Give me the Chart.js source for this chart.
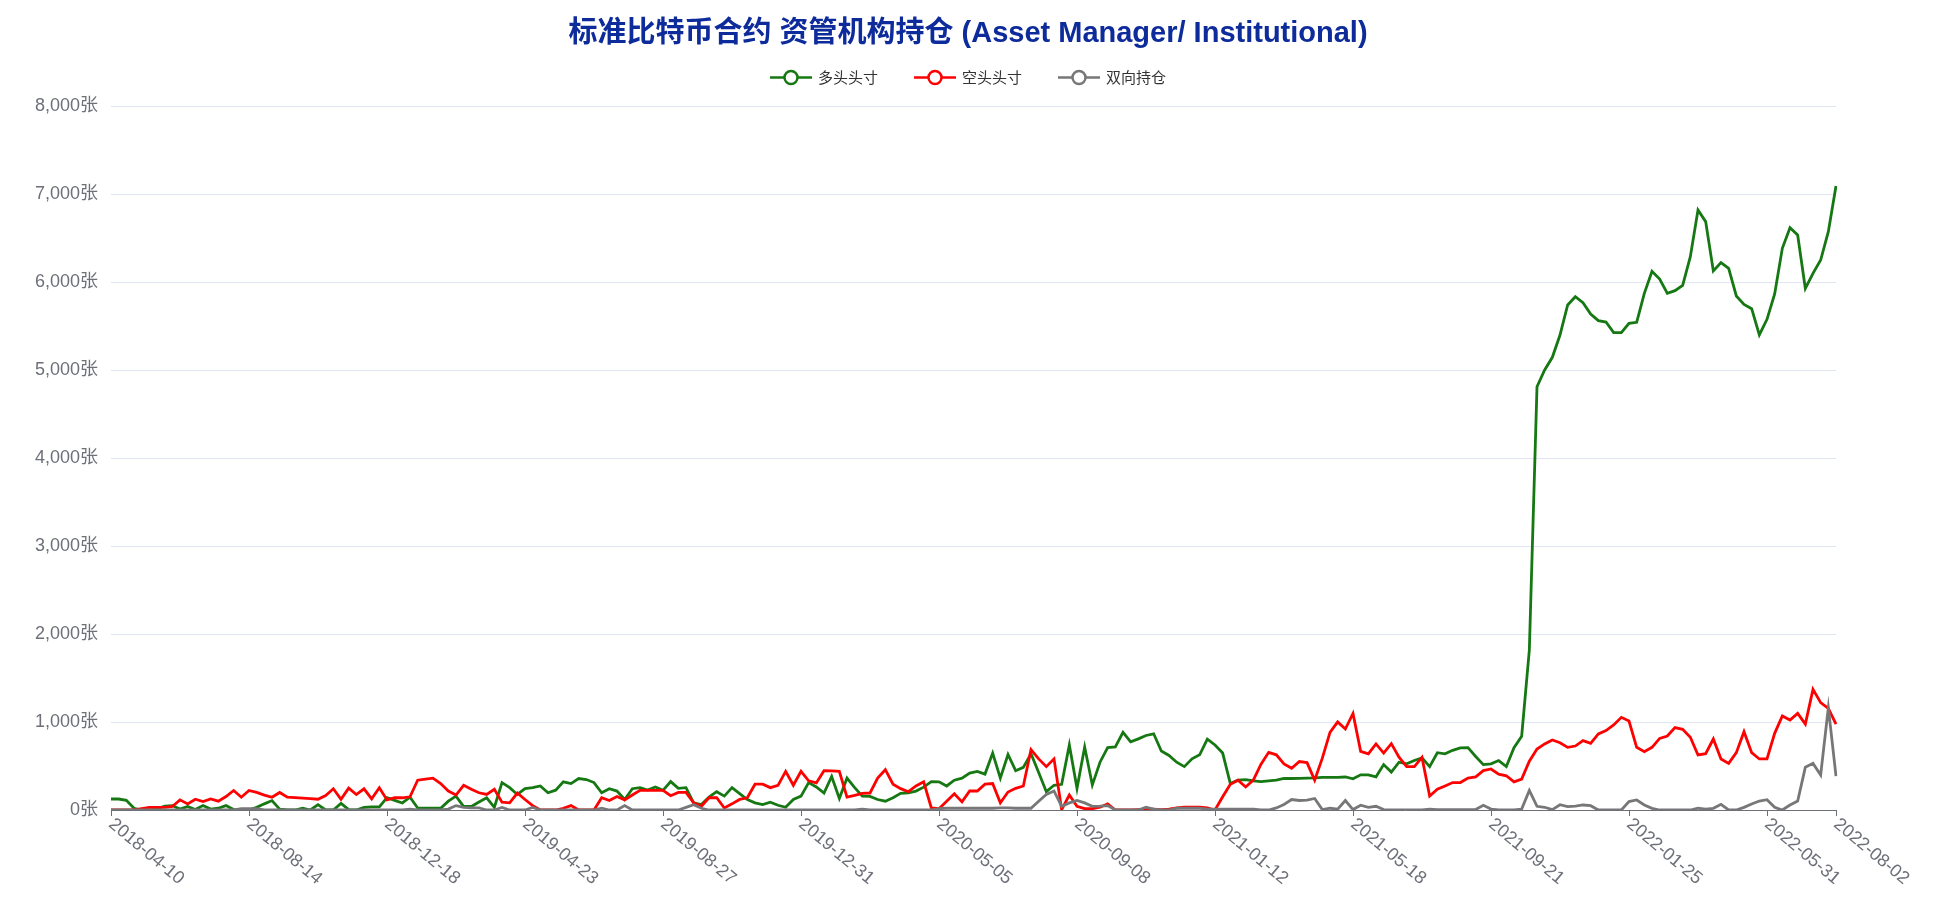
<!DOCTYPE html>
<html>
<head>
<meta charset="utf-8">
<script src="https://cdn.jsdelivr.net/npm/chart.js@4.4.1/dist/chart.umd.min.js"></script>
<style>
  html, body { margin: 0; padding: 0; background: #fff; }
  #wrap { width: 1936px; height: 912px; }
</style>
</head>
<body>
<div id="wrap"><canvas id="chart" width="1936" height="912"></canvas></div>
<script>
// ── Data ──────────────────────────────────────────────────────────
const chartTitle = "标准比特币合约 资管机构持仓 (Asset Manager/ Institutional)";
const startDate  = "2018-04-10";   // weekly report, every Tuesday
const weekCount  = 226;
const tickLabels = ["2018-04-10", "2018-08-14", "2018-12-18", "2019-04-23", "2019-08-27",
  "2019-12-31", "2020-05-05", "2020-09-08", "2021-01-12", "2021-05-18", "2021-09-21",
  "2022-01-25", "2022-05-31", "2022-08-02"];
const yTicks = [0, 1000, 2000, 3000, 4000, 5000, 6000, 7000, 8000];

const longs = [
  125, 125, 110, 20, 0, 0, 10, 45, 50, 10,
  40, 5, 50, 10, 20, 50, 5, 0, 0, 30,
  70, 107, 10, 0, 0, 20, 0, 60, 0, 0,
  75, 5, 0, 30, 35, 35, 140, 110, 80, 145,
  23, 20, 20, 20, 100, 158, 40, 40, 90, 138,
  30, 311, 254, 177, 242, 254, 273, 196, 225, 320,
  300, 358, 346, 312, 196, 242, 215, 119, 242, 254,
  227, 262, 223, 323, 246, 254, 81, 62, 146, 208,
  158, 254, 185, 119, 81, 62, 89, 54, 31, 119,
  158, 312, 262, 193, 381, 131, 362, 254, 158, 155,
  119, 100, 139, 189, 196, 215, 260, 323, 320, 273,
  339, 362, 420, 439, 408, 647, 362, 631, 447, 485,
  639, 427, 208, 281, 292, 739, 246, 716, 285, 543,
  708, 716, 882, 775, 808, 847, 866, 670, 620, 543,
  493, 581, 627, 805, 739, 647, 300, 339, 346, 331,
  323, 331, 339, 358, 358, 360, 362, 365, 370, 370,
  370, 375, 355, 400, 400, 377, 516, 431, 543, 524,
  562, 593, 493, 651, 639, 678, 705, 708, 608, 516,
  524, 562, 493, 708, 839, 1818, 4810, 5000, 5144, 5398,
  5739, 5833, 5765, 5636, 5561, 5545, 5424, 5424, 5530, 5542,
  5871, 6121, 6034, 5871, 5902, 5962, 6288, 6818, 6686, 6125,
  6220, 6155, 5841, 5746, 5697, 5398, 5576, 5864, 6383, 6617,
  6534, 5928, 6098, 6250, 6572, 7091
];

const shorts = [
  0, 0, 0, 0, 15, 30, 30, 30, 40, 115,
  69, 122, 96, 126, 100, 153, 222, 145, 222, 200,
  170, 145, 199, 145, 140, 135, 130, 122, 165, 241,
  122, 249, 176, 241, 126, 253, 115, 139, 139, 150,
  339, 350, 362, 300, 216, 170, 281, 235, 196, 177,
  235, 89, 81, 193, 119, 50, 0, 0, 0, 20,
  50, 0, 0, 0, 139, 108, 154, 115, 170, 223,
  223, 223, 223, 162, 200, 200, 81, 42, 139, 139,
  23, 70, 120, 139, 293, 293, 254, 280, 439, 281,
  439, 331, 308, 447, 445, 439, 146, 166, 189, 193,
  362, 458, 293, 243, 208, 273, 320, 23, 15, 100,
  185, 92, 216, 216, 293, 300, 81, 204, 246, 273,
  685, 581, 493, 581, 4, 170, 42, 15, 15, 31,
  69, 0, 0, 0, 5, 10, 10, 5, 10, 25,
  31, 31, 31, 25, 0, 150, 293, 339, 262, 339,
  520, 655, 627, 524, 474, 551, 539, 339, 589, 882,
  1001, 920, 1097, 666, 639, 751, 647, 754, 601, 493,
  493, 597, 158, 235, 273, 312, 312, 362, 377, 447,
  466, 408, 389, 320, 351, 554, 693, 751, 795, 765,
  712, 727, 788, 758, 864, 902, 966, 1053, 1011, 712,
  663, 712, 814, 841, 936, 917, 826, 625, 640, 807,
  580, 530, 652, 890, 652, 580, 580, 871, 1068, 1023,
  1098, 977, 1371, 1220, 1155, 977
];

const spreads = [
  0, 0, 0, 0, 0, 0, 0, 0, 0, 0,
  0, 0, 0, 0, 0, 0, 0, 15, 15, 15,
  0, 0, 0, 0, 0, 0, 0, 0, 0, 0,
  0, 0, 0, 0, 0, 0, 0, 0, 0, 10,
  0, 0, 0, 0, 10, 50, 30, 25, 25, 0,
  0, 30, 0, 0, 0, 30, 0, 0, 0, 0,
  0, 0, 0, 0, 20, 0, 0, 50, 0, 0,
  0, 0, 0, 0, 0, 30, 60, 20, 0, 0,
  0, 0, 0, 0, 0, 0, 0, 0, 0, 0,
  0, 0, 0, 0, 0, 0, 0, 0, 10, 0,
  0, 0, 0, 0, 0, 0, 0, 0, 15, 20,
  20, 20, 20, 20, 20, 20, 25, 25, 20, 20,
  20, 100, 177, 216, 42, 81, 108, 81, 42, 45,
  50, 0, 0, 0, 0, 31, 10, 0, 0, 20,
  20, 20, 20, 10, 10, 10, 10, 10, 10, 10,
  0, 0, 23, 62, 119, 108, 112, 131, 4, 20,
  10, 108, 5, 54, 31, 42, 5, 0, 0, 0,
  0, 0, 10, 5, 5, 5, 5, 5, 5, 54,
  10, 0, 0, 0, 10, 223, 42, 31, 5, 60,
  38, 45, 57, 49, 0, 0, 0, 0, 95, 114,
  57, 19, 0, 0, 0, 0, 0, 20, 10, 19,
  64, 0, 0, 30, 68, 102, 117, 30, 0, 57,
  102, 485, 530, 398, 1163, 386
];

// ── Weekly category labels ────────────────────────────────────────
function weeklyDates(start, n) {
  const out = [];
  const t0 = Date.parse(start + "T00:00:00Z");
  for (let i = 0; i < n; i++) {
    out.push(new Date(t0 + i * 7 * 86400000).toISOString().slice(0, 10));
  }
  return out;
}
const dates = weeklyDates(startDate, weekCount);

const AXIS_GREY = "#6E7079";
const FONT = "'Liberation Sans', 'Noto Sans CJK SC', sans-serif";

// ── Title, legend and slanted date labels (ECharts look) ──────────
const decor = {
  id: "decor",
  afterDraw(chart) {
    const ctx = chart.ctx;
    ctx.save();

    // title
    ctx.fillStyle = "#0d2b9b";
    ctx.font = "bold 29px " + FONT;
    ctx.textAlign = "center";
    ctx.textBaseline = "middle";
    ctx.fillText(chartTitle, 968, 34);

    // legend: line + hollow circle, then text
    ctx.font = "15px " + FONT;
    const iconW = 42, gap = 6, itemGap = 36;
    const items = chart.data.datasets.map(ds => ({
      text: ds.label, color: ds.borderColor, w: iconW + gap + ctx.measureText(ds.label).width
    }));
    const total = items.reduce((s, it) => s + it.w, 0) + itemGap * (items.length - 1);
    let x = 968 - total / 2;
    const ly = 77.5;
    items.forEach(it => {
      ctx.strokeStyle = it.color;
      ctx.lineWidth = 2.5;
      ctx.beginPath();
      ctx.moveTo(x, ly); ctx.lineTo(x + iconW, ly);
      ctx.stroke();
      ctx.beginPath();
      ctx.arc(x + iconW / 2, ly, 6.5, 0, Math.PI * 2);
      ctx.fillStyle = "#fff";
      ctx.fill();
      ctx.stroke();
      ctx.fillStyle = "#333";
      ctx.textAlign = "left";
      ctx.fillText(it.text, x + iconW + gap, ly + 1);
      x += it.w + itemGap;
    });

    // rotated x labels, reading down to the right from the tick
    const xs = chart.scales.x;
    ctx.font = "18px " + FONT;
    ctx.fillStyle = AXIS_GREY;
    ctx.textAlign = "left";
    ctx.textBaseline = "middle";
    tickLabels.forEach(lbl => {
      const i = dates.indexOf(lbl);
      if (i < 0) return;
      ctx.save();
      ctx.translate(xs.getPixelForValue(i), xs.top + 12);
      ctx.rotate(40 * Math.PI / 180);
      ctx.fillText(lbl, 0, 0);
      ctx.restore();
    });

    ctx.restore();
  }
};

// ── Chart ─────────────────────────────────────────────────────────
// later series sit on top, as in the source chart
const line = (label, data, color, order) => ({
  label, data, order,
  borderColor: color,
  backgroundColor: color,
  borderWidth: 2.8,
  pointRadius: 0,
  pointHoverRadius: 0,
  tension: 0,
  fill: false
});

new Chart(document.getElementById("chart"), {
  type: "line",
  data: {
    labels: dates,
    datasets: [
      line("多头头寸", longs, "#157812", 3),
      line("空头头寸", shorts, "#ff0000", 2),
      line("双向持仓", spreads, "#777777", 1)
    ]
  },
  options: {
    responsive: false,
    animation: false,
    layout: { padding: { top: 106, right: 100, left: 0, bottom: 0 } },
    plugins: {
      legend: { display: false },
      title: { display: false },
      tooltip: { enabled: false }
    },
    scales: {
      x: {
        type: "category",
        offset: false,
        ticks: { display: false },
        border: { display: true, color: AXIS_GREY, width: 1 },
        grid: {
          display: true,
          drawOnChartArea: false,
          drawTicks: true,
          tickLength: 6,
          tickColor: c => tickLabels.includes(dates[c.index]) ? AXIS_GREY : "rgba(0,0,0,0)"
        },
        afterFit: s => { s.height = 102; }
      },
      y: {
        min: 0,
        max: 8000,
        afterBuildTicks: s => { s.ticks = yTicks.map(v => ({ value: v })); },
        afterFit: s => { s.width = 111; },
        ticks: {
          padding: 13,
          color: AXIS_GREY,
          font: { family: FONT, size: 18 },
          callback: v => v.toLocaleString("en-US") + "张"
        },
        border: { display: false },
        grid: { color: "#E0E6F1", drawTicks: false }
      }
    }
  },
  plugins: [decor]
});
</script>
</body>
</html>
